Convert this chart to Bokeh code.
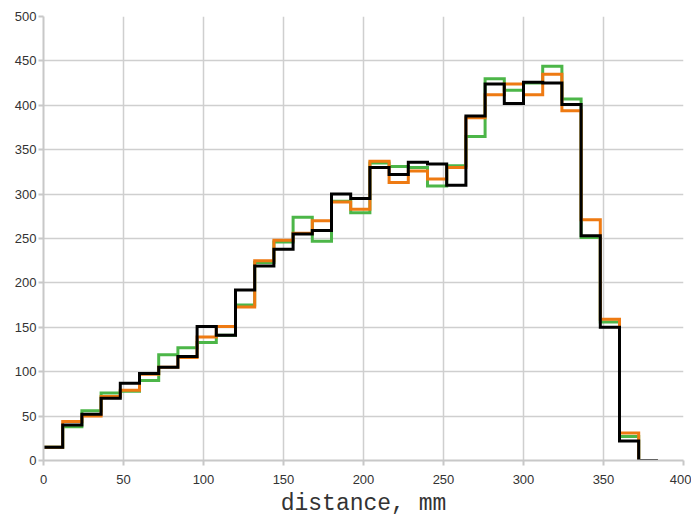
from bokeh.plotting import figure
from bokeh.models import Range1d, SingleIntervalTicker
from bokeh.embed import file_html
from bokeh.resources import INLINE

bin_edges = [0, 12, 24, 36, 48, 60, 72, 84, 96, 108, 120, 132, 144, 156, 168, 180,
             192, 204, 216, 228, 240, 252, 264, 276, 288, 300, 312, 324, 336, 348, 360, 372, 384]

green_counts = [15, 38, 56, 76, 78, 90, 119, 127, 133, 141, 175, 223, 246, 274, 247, 292,
                279, 335, 331, 330, 309, 332, 365, 430, 417, 425, 444, 407, 251, 156, 27, 0]
orange_counts = [15, 44, 50, 72, 79, 97, 105, 116, 139, 151, 173, 225, 248, 256, 270, 291,
                 283, 337, 313, 326, 317, 330, 386, 412, 424, 412, 435, 394, 271, 159, 31, 0]
black_counts = [15, 40, 52, 70, 87, 98, 105, 117, 151, 141, 192, 219, 238, 255, 259, 300,
                295, 330, 322, 336, 334, 310, 388, 424, 402, 426, 425, 401, 253, 150, 22, 0]

series = [("#4cb648", green_counts), ("#ee7a12", orange_counts), ("#000000", black_counts)]

p = figure(frame_width=640, frame_height=444, output_backend="svg", toolbar_location=None,
           x_range=Range1d(0, 400), y_range=Range1d(0, 500),
           min_border_left=43, min_border_top=16, min_border_right=8, min_border_bottom=0)

for color, counts in series:
    p.step(x=bin_edges, y=counts + [counts[-1]], mode="after", line_color=color,
           line_width=3, line_join="miter")

p.outline_line_color = None
p.background_fill_color = "white"
p.border_fill_color = "white"

p.xaxis.ticker = SingleIntervalTicker(interval=50)
p.yaxis.ticker = SingleIntervalTicker(interval=50)
for ax in (p.xaxis, p.yaxis):
    ax.axis_line_color = "#c8c8c8"
    ax.axis_line_width = 2
    ax.major_tick_line_color = "#c8c8c8"
    ax.major_tick_line_width = 2
    ax.major_tick_out = 5
    ax.major_tick_in = 0
    ax.minor_tick_line_color = None
    ax.major_label_text_font = "Liberation Sans"
    ax.major_label_text_font_size = "13px"
    ax.major_label_text_color = "#333333"

p.yaxis.major_label_standoff = 2
p.xaxis.major_label_standoff = 9
p.xaxis.axis_label = "distance, mm"
p.xaxis.axis_label_text_font = "Liberation Mono"
p.xaxis.axis_label_text_font_size = "23px"
p.xaxis.axis_label_text_font_style = "normal"
p.xaxis.axis_label_text_color = "#333333"
p.xaxis.axis_label_standoff = 4

for g in (p.xgrid, p.ygrid):
    g.grid_line_color = "#cfcfcf"
    g.grid_line_width = 1.5

open("out.html", "w").write(file_html(p, INLINE))
